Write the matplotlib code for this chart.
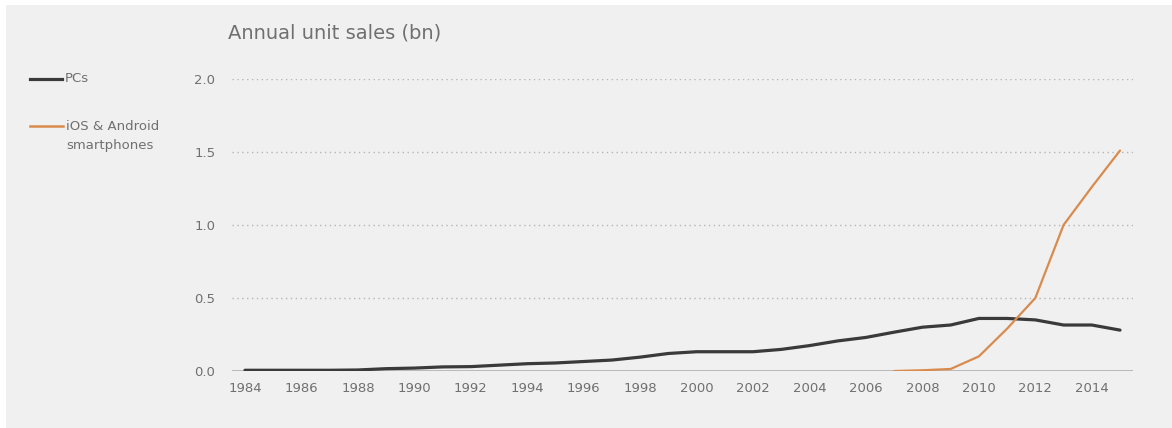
import matplotlib
matplotlib.use("Agg")
import matplotlib.pyplot as plt
from matplotlib.patches import Rectangle

years = list(range(1984, 2016))
pcs = [0.005, 0.005, 0.005, 0.005, 0.007, 0.016, 0.02, 0.028, 0.03, 0.04,
       0.05, 0.055, 0.065, 0.075, 0.095, 0.12, 0.132, 0.132, 0.132, 0.148,
       0.174, 0.206, 0.23, 0.266, 0.30, 0.315, 0.36, 0.36, 0.35, 0.315,
       0.315, 0.28]
phone_years = list(range(2007, 2016))
phones = [0.0, 0.005, 0.014, 0.10, 0.29, 0.50, 1.0, 1.26, 1.51]
y_ticks = [0.0, 0.5, 1.0, 1.5, 2.0]
x_ticks = list(range(1984, 2016, 2))

BG = "#f0f0f0"
W, H = 1172, 428
fig = plt.figure(figsize=(W / 100, H / 100), dpi=100, facecolor="white")
fig.patches.append(Rectangle((6 / W, 0), 1, 1 - 5 / H, transform=fig.transFigure,
                             facecolor=BG, edgecolor="none", zorder=-10))

left, right = 232 / W, 1133 / W
bottom, top = 1 - 371 / H, 1 - 79 / H
ax = fig.add_axes([left, bottom, right - left, top - bottom])
ax.set_facecolor("none")

ax.plot(years, pcs, color="#3a3a3a", lw=2.3, solid_capstyle="round", zorder=3)
ax.plot(phone_years, phones, color="#d98b4e", lw=1.6, solid_capstyle="round", zorder=4)

ax.set_xlim(1983.54, 2015.46)
ax.set_ylim(0, 2.0)
for s in ax.spines.values():
    s.set_visible(False)
ax.axhline(0, color="#b0b0b0", lw=1.2, zorder=2)
for v in y_ticks[1:]:
    ax.axhline(v, color="#b5b5b5", lw=1.0, ls=(0, (1, 2.5)), zorder=1)

ax.set_yticks(y_ticks)
ax.set_yticklabels([f"{v:.1f}" for v in y_ticks])
ax.set_xticks(x_ticks)
ax.set_xticklabels([str(x) for x in x_ticks])
ax.tick_params(axis="both", length=0, labelsize=9.5, labelcolor="#707070")
ax.tick_params(axis="y", pad=12)
ax.tick_params(axis="x", pad=8)

fig.text(228 / W, 1 - 33 / H, "Annual unit sales (bn)", fontsize=14,
         color="#707070", va="center", ha="left")

# legend
fig.lines.append(plt.Line2D([30 / W, 62 / W], [1 - 79 / H] * 2, transform=fig.transFigure,
                            color="#3a3a3a", lw=2.3))
fig.text(65 / W, 1 - 79 / H, "PCs", fontsize=9.5, color="#707070", va="center", ha="left")
fig.lines.append(plt.Line2D([30 / W, 63 / W], [1 - 126 / H] * 2, transform=fig.transFigure,
                            color="#d98b4e", lw=1.8))
fig.text(66 / W, 1 - 126 / H, "iOS & Android", fontsize=9.5, color="#707070", va="center", ha="left")
fig.text(66 / W, 1 - 146 / H, "smartphones", fontsize=9.5, color="#707070", va="center", ha="left")

fig.savefig("out.png", dpi=100, facecolor="white")
